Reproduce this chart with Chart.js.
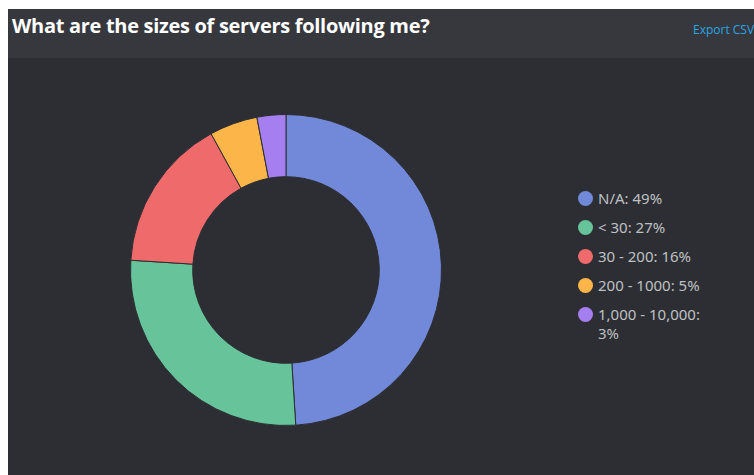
<!DOCTYPE html>
<html lang="en">

<head>
    <meta charset="UTF-8">
    <title>Server sizes</title>
    <script src="https://cdn.jsdelivr.net/npm/chart.js"></script>
    <style>
        body {
            margin: 0;
            width: 754px;
            height: 475px;
            background: #ffffff;
            overflow: hidden;
            position: relative;
        }

        .cabecalho {
            position: absolute;
            left: 8px;
            top: 9px;
            width: 746px;
            height: 49px;
            background: #36383e;
            overflow: hidden;
        }

        .titulo {
            position: absolute;
            left: 4px;
            top: 3px;
            color: #ffffff;
            font-family: "Open Sans", sans-serif;
            font-weight: 700;
            font-size: 20px;
            letter-spacing: -0.3px;
        }

        .exportar {
            position: absolute;
            left: 685px;
            top: 12px;
            color: #2aa6e6;
            font-family: "Open Sans", sans-serif;
            font-size: 12px;
            white-space: nowrap;
        }

        .fundo {
            position: absolute;
            left: 8px;
            top: 58px;
            width: 746px;
            height: 417px;
            background: #2d2e33;
        }

        .grafico {
            position: absolute;
            left: 122px;
            top: 56px;
            width: 312px;
            height: 312px;
        }

        .legenda {
            position: absolute;
            left: 570px;
            top: 131px;
            width: 132px;
            font-family: "Noto Sans", sans-serif;
            font-size: 15px;
            color: #bfc0c4;
        }

        .item {
            display: flex;
            align-items: flex-start;
            margin-bottom: 10px;
            line-height: 19px;
        }

        .bola {
            flex: none;
            width: 15px;
            height: 15px;
            border-radius: 50%;
            margin-top: 2px;
            margin-right: 5px;
        }
    </style>
</head>

<body>
    <div class="cabecalho">
        <div class="titulo">What are the sizes of servers following me?</div>
        <div class="exportar">Export CSV</div>
    </div>
    <div class="fundo">
        <div class="grafico">
            <canvas id="myChart"></canvas>
        </div>
        <div class="legenda" id="legenda"></div>
    </div>
</body>

</html>
<script>

    // dados
    const categorias = ['N/A', '< 30', '30 - 200', '200 - 1000', '1,000 - 10,000'];
    const percentuais = [49, 27, 16, 5, 3];
    const cores = ['#7289da', '#66c39a', '#ef6b6b', '#fbb549', '#a57ff0'];

    // legenda em html (o ultimo item quebra em duas linhas)
    var legenda = document.getElementById('legenda');
    for (var i = 0; i < categorias.length; i++) {
        var item = document.createElement('div');
        item.className = 'item';
        item.innerHTML = '<span class="bola" style="background:' + cores[i] + '"></span>' +
            '<span>' + categorias[i].replace('<', '&lt;') + ': ' + percentuais[i] + '%</span>';
        legenda.appendChild(item);
    }

    const ctx = document.getElementById('myChart');

    new Chart(ctx, {
        type: 'doughnut',
        data: {
            labels: categorias,
            datasets: [{
                data: percentuais,
                backgroundColor: cores,
                borderColor: '#2d2e33',
                borderWidth: 1,
            }]
        },
        options: {
            responsive: true,
            maintainAspectRatio: false,
            animation: false,
            cutout: '60%',
            plugins: {
                legend: {
                    display: false
                },
                tooltip: {
                    enabled: false
                }
            },
        }
    });
</script>
